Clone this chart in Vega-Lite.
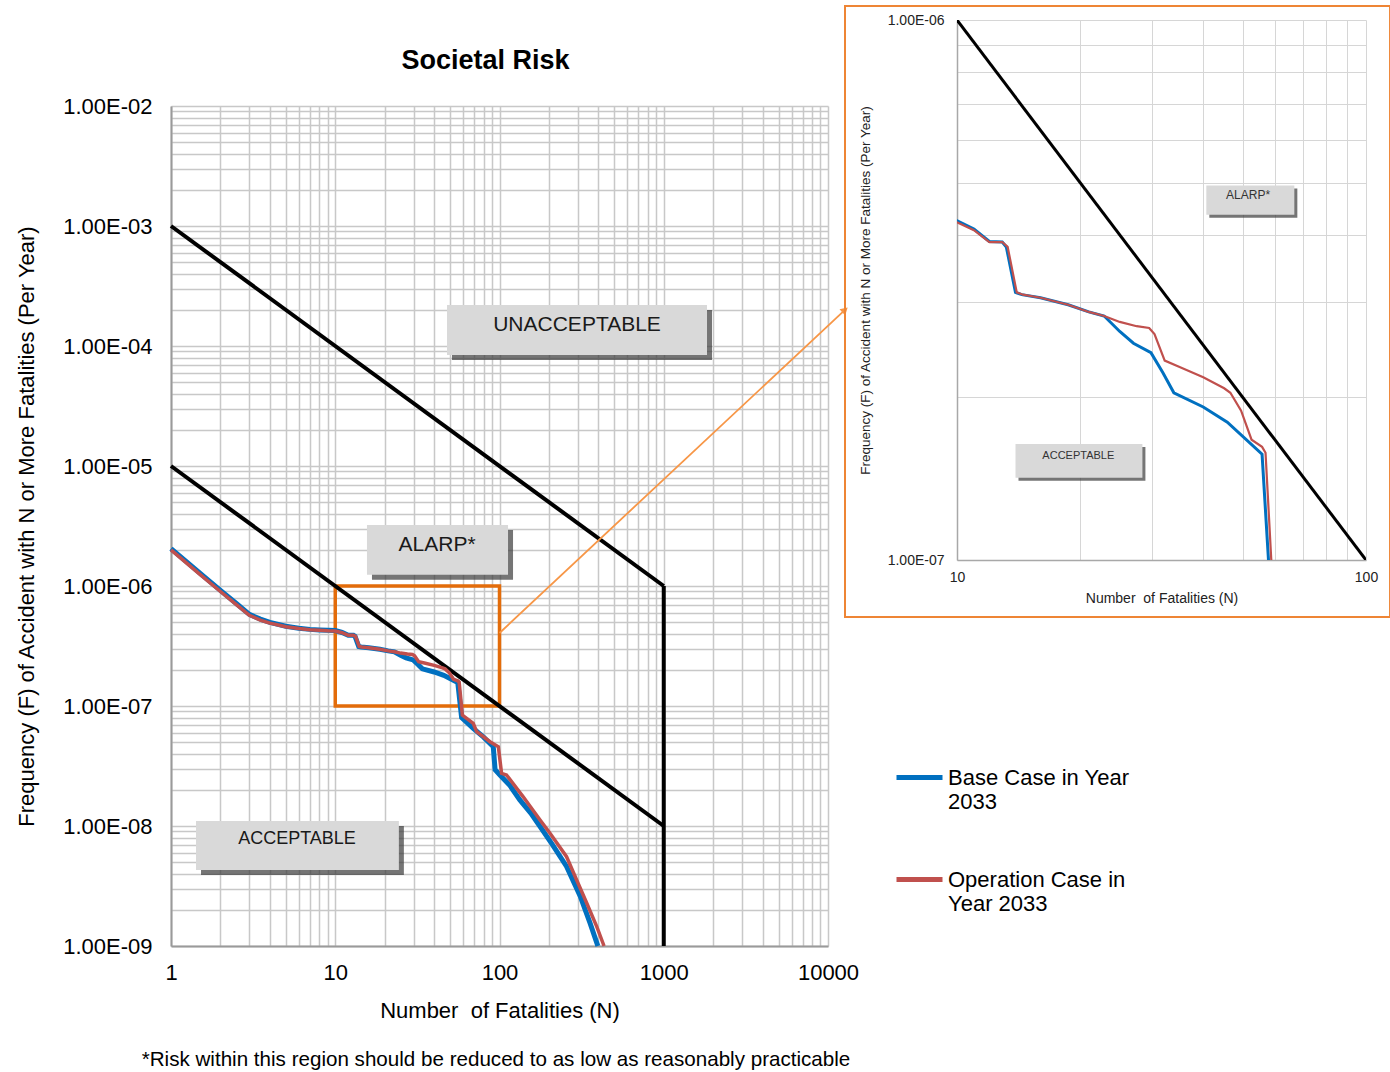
{
  "$schema": "https://vega.github.io/schema/vega-lite/v6.json",
  "background": "white",
  "padding": {"left": 15, "top": 4, "right": 0, "bottom": 4},
  "bounds": "flush",
  "spacing": 129,
  "title": {
    "text": "*Risk within this region should be reduced to as low as reasonably practicable",
    "orient": "bottom",
    "anchor": "start",
    "frame": "bounds",
    "offset": 29,
    "dx": 126,
    "fontSize": 20.6,
    "fontWeight": "normal",
    "font": "Liberation Sans",
    "color": "#000000"
  },
  "config": {
    "font": "Liberation Sans",
    "view": {"stroke": null},
    "legend": {
      "symbolType": "stroke",
      "symbolSize": 2116,
      "symbolStrokeWidth": 5,
      "labelFontSize": 22,
      "labelFont": "Liberation Sans",
      "labelColor": "#000000",
      "labelOffset": 3,
      "rowPadding": 41,
      "padding": 0,
      "labelLimit": 400,
      "labelBaseline": "middle"
    }
  },
  "resolve": {"scale": {"x": "independent", "y": "independent", "color": "shared"}},
  "datasets": {
    "curves": [
      {"series": "Base Case in Year 2033", "N": 1, "F": 2.05e-6},
      {"series": "Base Case in Year 2033", "N": 1.5, "F": 1.28e-6},
      {"series": "Base Case in Year 2033", "N": 2, "F": 9.2e-7},
      {"series": "Base Case in Year 2033", "N": 2.5, "F": 7.15e-7},
      {"series": "Base Case in Year 2033", "N": 3, "F": 5.8e-7},
      {"series": "Base Case in Year 2033", "N": 3.5, "F": 5.3e-7},
      {"series": "Base Case in Year 2033", "N": 4, "F": 4.97e-7},
      {"series": "Base Case in Year 2033", "N": 5, "F": 4.62e-7},
      {"series": "Base Case in Year 2033", "N": 6, "F": 4.45e-7},
      {"series": "Base Case in Year 2033", "N": 7, "F": 4.35e-7},
      {"series": "Base Case in Year 2033", "N": 8, "F": 4.3e-7},
      {"series": "Base Case in Year 2033", "N": 9, "F": 4.27e-7},
      {"series": "Base Case in Year 2033", "N": 10, "F": 4.25e-7},
      {"series": "Base Case in Year 2033", "N": 11, "F": 4.1e-7},
      {"series": "Base Case in Year 2033", "N": 12, "F": 3.89e-7},
      {"series": "Base Case in Year 2033", "N": 12.9, "F": 3.88e-7},
      {"series": "Base Case in Year 2033", "N": 13.2, "F": 3.8e-7},
      {"series": "Base Case in Year 2033", "N": 13.9, "F": 3.13e-7},
      {"series": "Base Case in Year 2033", "N": 14.4, "F": 3.1e-7},
      {"series": "Base Case in Year 2033", "N": 16, "F": 3.06e-7},
      {"series": "Base Case in Year 2033", "N": 18.7, "F": 2.97e-7},
      {"series": "Base Case in Year 2033", "N": 21, "F": 2.88e-7},
      {"series": "Base Case in Year 2033", "N": 22.9, "F": 2.83e-7},
      {"series": "Base Case in Year 2033", "N": 25, "F": 2.65e-7},
      {"series": "Base Case in Year 2033", "N": 27, "F": 2.52e-7},
      {"series": "Base Case in Year 2033", "N": 29.8, "F": 2.42e-7},
      {"series": "Base Case in Year 2033", "N": 31.9, "F": 2.22e-7},
      {"series": "Base Case in Year 2033", "N": 33.9, "F": 2.04e-7},
      {"series": "Base Case in Year 2033", "N": 40, "F": 1.92e-7},
      {"series": "Base Case in Year 2033", "N": 45.8, "F": 1.8e-7},
      {"series": "Base Case in Year 2033", "N": 55.7, "F": 1.57e-7},
      {"series": "Base Case in Year 2033", "N": 58.8, "F": 8.0e-8},
      {"series": "Base Case in Year 2033", "N": 69.2, "F": 6.5e-8},
      {"series": "Base Case in Year 2033", "N": 80, "F": 5.5e-8},
      {"series": "Base Case in Year 2033", "N": 89.4, "F": 4.73e-8},
      {"series": "Base Case in Year 2033", "N": 91.6, "F": 4.6e-8},
      {"series": "Base Case in Year 2033", "N": 94, "F": 2.95e-8},
      {"series": "Base Case in Year 2033", "N": 100.6, "F": 2.66e-8},
      {"series": "Base Case in Year 2033", "N": 115, "F": 2.2e-8},
      {"series": "Base Case in Year 2033", "N": 133, "F": 1.65e-8},
      {"series": "Base Case in Year 2033", "N": 155, "F": 1.28e-8},
      {"series": "Base Case in Year 2033", "N": 176.6, "F": 9.9e-9},
      {"series": "Base Case in Year 2033", "N": 210, "F": 7.0e-9},
      {"series": "Base Case in Year 2033", "N": 256, "F": 4.6e-9},
      {"series": "Base Case in Year 2033", "N": 310, "F": 2.6e-9},
      {"series": "Base Case in Year 2033", "N": 356, "F": 1.55e-9},
      {"series": "Base Case in Year 2033", "N": 397, "F": 1.0e-9},
      {"series": "Operation Case in Year 2033", "N": 1, "F": 2.0e-6},
      {"series": "Operation Case in Year 2033", "N": 1.5, "F": 1.25e-6},
      {"series": "Operation Case in Year 2033", "N": 2, "F": 9.0e-7},
      {"series": "Operation Case in Year 2033", "N": 2.5, "F": 7.0e-7},
      {"series": "Operation Case in Year 2033", "N": 3, "F": 5.7e-7},
      {"series": "Operation Case in Year 2033", "N": 3.5, "F": 5.2e-7},
      {"series": "Operation Case in Year 2033", "N": 4, "F": 4.9e-7},
      {"series": "Operation Case in Year 2033", "N": 5, "F": 4.58e-7},
      {"series": "Operation Case in Year 2033", "N": 6, "F": 4.42e-7},
      {"series": "Operation Case in Year 2033", "N": 7, "F": 4.32e-7},
      {"series": "Operation Case in Year 2033", "N": 8, "F": 4.27e-7},
      {"series": "Operation Case in Year 2033", "N": 9, "F": 4.23e-7},
      {"series": "Operation Case in Year 2033", "N": 10, "F": 4.22e-7},
      {"series": "Operation Case in Year 2033", "N": 11, "F": 4.08e-7},
      {"series": "Operation Case in Year 2033", "N": 12, "F": 3.88e-7},
      {"series": "Operation Case in Year 2033", "N": 12.9, "F": 3.88e-7},
      {"series": "Operation Case in Year 2033", "N": 13.3, "F": 3.8e-7},
      {"series": "Operation Case in Year 2033", "N": 14.0, "F": 3.13e-7},
      {"series": "Operation Case in Year 2033", "N": 14.5, "F": 3.1e-7},
      {"series": "Operation Case in Year 2033", "N": 16, "F": 3.06e-7},
      {"series": "Operation Case in Year 2033", "N": 18.7, "F": 2.97e-7},
      {"series": "Operation Case in Year 2033", "N": 21, "F": 2.88e-7},
      {"series": "Operation Case in Year 2033", "N": 22.9, "F": 2.83e-7},
      {"series": "Operation Case in Year 2033", "N": 25, "F": 2.76e-7},
      {"series": "Operation Case in Year 2033", "N": 27.5, "F": 2.71e-7},
      {"series": "Operation Case in Year 2033", "N": 29.5, "F": 2.69e-7},
      {"series": "Operation Case in Year 2033", "N": 30.4, "F": 2.62e-7},
      {"series": "Operation Case in Year 2033", "N": 32.2, "F": 2.34e-7},
      {"series": "Operation Case in Year 2033", "N": 34.9, "F": 2.28e-7},
      {"series": "Operation Case in Year 2033", "N": 40, "F": 2.18e-7},
      {"series": "Operation Case in Year 2033", "N": 45, "F": 2.08e-7},
      {"series": "Operation Case in Year 2033", "N": 46.6, "F": 2.04e-7},
      {"series": "Operation Case in Year 2033", "N": 49.5, "F": 1.89e-7},
      {"series": "Operation Case in Year 2033", "N": 52.5, "F": 1.67e-7},
      {"series": "Operation Case in Year 2033", "N": 55.7, "F": 1.62e-7},
      {"series": "Operation Case in Year 2033", "N": 56.8, "F": 1.58e-7},
      {"series": "Operation Case in Year 2033", "N": 59.4, "F": 8.4e-8},
      {"series": "Operation Case in Year 2033", "N": 69.2, "F": 7.18e-8},
      {"series": "Operation Case in Year 2033", "N": 72.6, "F": 6.11e-8},
      {"series": "Operation Case in Year 2033", "N": 87.5, "F": 5.04e-8},
      {"series": "Operation Case in Year 2033", "N": 98.4, "F": 4.58e-8},
      {"series": "Operation Case in Year 2033", "N": 102.9, "F": 2.75e-8},
      {"series": "Operation Case in Year 2033", "N": 110.3, "F": 2.66e-8},
      {"series": "Operation Case in Year 2033", "N": 139.4, "F": 1.75e-8},
      {"series": "Operation Case in Year 2033", "N": 176.6, "F": 1.12e-8},
      {"series": "Operation Case in Year 2033", "N": 203, "F": 8.69e-9},
      {"series": "Operation Case in Year 2033", "N": 256, "F": 5.55e-9},
      {"series": "Operation Case in Year 2033", "N": 295, "F": 3.55e-9},
      {"series": "Operation Case in Year 2033", "N": 340, "F": 2.27e-9},
      {"series": "Operation Case in Year 2033", "N": 391, "F": 1.45e-9},
      {"series": "Operation Case in Year 2033", "N": 433, "F": 1.0e-9}
    ],
    "criteria": [
      {"line": "upper", "N": 1, "F": 0.001},
      {"line": "upper", "N": 1000, "F": 1e-6},
      {"line": "lower", "N": 1, "F": 1e-5},
      {"line": "lower", "N": 1000, "F": 1e-8}
    ],
    "limit": [
      {"N": 1000, "F": 1e-9, "F2": 1e-6}
    ],
    "boxesMain": [
      {"label": "UNACCEPTABLE", "N": 47.9, "N2": 1834, "F": 2.2e-4, "F2": 8.41e-5},
      {"label": "ALARP*", "N": 15.6, "N2": 112.7, "F": 3.22e-6, "F2": 1.24e-6},
      {"label": "ACCEPTABLE", "N": 1.42, "N2": 24.4, "F": 1.1e-8, "F2": 4.3e-9}
    ],
    "labelsMain": [
      {"label": "UNACCEPTABLE", "N": 296.5, "F": 1.5e-4},
      {"label": "ALARP*", "N": 41.7, "F": 2.2e-6},
      {"label": "ACCEPTABLE", "N": 5.85, "F": 7.79e-9}
    ],
    "zoomBox": [
      {"N": 10, "N2": 100, "F": 1e-7, "F2": 1e-6}
    ],
    "connector": [
      {"N": 100, "F": 4.06e-7, "N2": 12690, "F2": 2.0e-4}
    ],
    "boxesInset": [
      {"label": "ALARP*", "N": 40.7, "N2": 66.8, "F": 4.94e-7, "F2": 4.36e-7},
      {"label": "ACCEPTABLE", "N": 13.9, "N2": 28.4, "F": 1.64e-7, "F2": 1.42e-7}
    ],
    "labelsInset": [
      {"label": "ALARP*", "N": 51.5, "F": 4.74e-7},
      {"label": "ACCEPTABLE", "N": 19.8, "F": 1.56e-7}
    ],
    "insetFrame": [
      {"N": 5.323, "N2": 114.5, "F": 7.84e-8, "F2": 1.0616e-6}
    ]
  },
  "hconcat": [
    {
      "width": 657,
      "height": 926,
      "resolve": {"axis": {"x": "independent"}},
      "title": {
        "text": "Societal Risk",
        "orient": "top",
        "anchor": "middle",
        "frame": "group",
        "offset": -76,
        "dx": -14,
        "baseline": "alphabetic",
        "fontSize": 27,
        "fontWeight": "bold",
        "font": "Liberation Sans",
        "color": "#000000"
      },
      "encoding": {
        "x": {
          "field": "N",
          "type": "quantitative",
          "scale": {"type": "log", "domain": [1, 10000], "nice": false},
          "axis": null
        },
        "y": {
          "field": "F",
          "type": "quantitative",
          "scale": {"type": "log", "domain": [1e-9, 0.01], "range": [926, 86], "nice": false},
          "axis": {
            "values": [1e-9,2e-9,3e-9,4e-9,5e-9,6e-9,7e-9,8e-9,9e-9,1e-8,2e-8,3e-8,4e-8,5e-8,6e-8,7e-8,8e-8,9e-8,1e-7,2e-7,3e-7,4e-7,5e-7,6e-7,7e-7,8e-7,9e-7,1e-6,2e-6,3e-6,4e-6,5e-6,6e-6,7e-6,8e-6,9e-6,1e-5,2e-5,3e-5,4e-5,5e-5,6e-5,7e-5,8e-5,9e-5,1e-4,2e-4,3e-4,4e-4,5e-4,6e-4,7e-4,8e-4,9e-4,0.001,0.002,0.003,0.004,0.005,0.006,0.007,0.008,0.009,0.01],
            "labelExpr": "abs(log(datum.value)/LN10 - round(log(datum.value)/LN10)) < 0.01 ? '1.00E-0' + (-round(log(datum.value)/LN10)) : ''",
            "labelOverlap": false,
            "labelFlush": false,
            "ticks": false,
            "labelFontSize": 22,
            "labelColor": "#000000",
            "labelPadding": 19,
            "grid": true,
            "gridColor": "#c8c8c8",
            "gridWidth": 1.5,
            "domainColor": "#9a9a9a",
            "domainWidth": 2,
            "title": "Frequency (F) of Accident with N or More Fatalities (Per Year)",
            "titleFontSize": 22,
            "titleFontWeight": "normal",
            "titleColor": "#000000",
            "titlePadding": 24
          }
        }
      },
      "layer": [
        {
          "data": {"name": "boxesMain"},
          "mark": {"type": "rect", "fill": "#3a3a3a", "opacity": 0.7, "xOffset": 5, "x2Offset": 5, "yOffset": 5, "y2Offset": 5},
          "encoding": {
            "x": {
              "field": "N",
              "type": "quantitative",
              "scale": {"type": "log", "domain": [1, 10000], "nice": false},
              "axis": {
                "orient": "top",
                "values": [1,2,3,4,5,6,7,8,9,10,20,30,40,50,60,70,80,90,100,200,300,400,500,600,700,800,900,1000,2000,3000,4000,5000,6000,7000,8000,9000,10000],
                "labels": false,
                "ticks": false,
                "domain": false,
                "grid": true,
                "gridColor": "#c8c8c8",
                "gridWidth": 1.5,
                "title": null
              }
            },
            "x2": {"field": "N2"},
            "y2": {"field": "F2"}
          }
        },
        {
          "data": {"name": "boxesMain"},
          "mark": {"type": "rect", "fill": "#d9d9d9"},
          "encoding": {"x2": {"field": "N2"}, "y2": {"field": "F2"}}
        },
        {
          "data": {"name": "labelsMain"},
          "transform": [{"filter": "datum.label != 'ACCEPTABLE'"}],
          "mark": {"type": "text", "fontSize": 21, "align": "center", "baseline": "middle", "color": "#1a1a1a"},
          "encoding": {"text": {"field": "label"}}
        },
        {
          "data": {"name": "labelsMain"},
          "transform": [{"filter": "datum.label == 'ACCEPTABLE'"}],
          "mark": {"type": "text", "fontSize": 18, "align": "center", "baseline": "middle", "color": "#1a1a1a"},
          "encoding": {"text": {"field": "label"}}
        },
        {
          "data": {"name": "zoomBox"},
          "mark": {"type": "rect", "filled": false, "stroke": "#E36C0A", "strokeWidth": 3.5},
          "encoding": {"x2": {"field": "N2"}, "y2": {"field": "F2"}}
        },
        {
          "data": {"name": "criteria"},
          "mark": {"type": "line", "color": "#000000", "strokeWidth": 4},
          "encoding": {
            "x": {
              "field": "N",
              "type": "quantitative",
              "scale": {"type": "log", "domain": [1, 10000], "nice": false},
              "axis": {
                "orient": "bottom",
                "values": [1,10,100,1000,10000],
                "labelExpr": "format(datum.value, 'd')",
                "labelOverlap": false,
                "labelFlush": false,
                "ticks": false,
                "grid": false,
                "labelFontSize": 22,
                "labelColor": "#000000",
                "labelPadding": 16,
                "domainColor": "#9a9a9a",
                "domainWidth": 2,
                "title": "Number\u00a0 of Fatalities (N)",
                "titleFontSize": 22,
                "titleFontWeight": "normal",
                "titleColor": "#000000",
                "titlePadding": 17
              }
            },
            "detail": {"field": "line"}
          }
        },
        {
          "data": {"name": "limit"},
          "mark": {"type": "rule", "color": "#000000", "strokeWidth": 4},
          "encoding": {"y2": {"field": "F2"}}
        },
        {
          "data": {"name": "curves"},
          "transform": [{"filter": "datum.series == 'Base Case in Year 2033'"}],
          "mark": {"type": "line", "strokeWidth": 5},
          "encoding": {
            "color": {
              "field": "series", "type": "nominal",
              "scale": {"domain": ["Base Case in Year 2033", "Operation Case in Year 2033"], "range": ["#0070C0", "#C0504D"]},
              "legend": {"orient": "none", "legendX": 723, "legendY": 732, "title": null, "labelExpr": "datum.label == 'Base Case in Year 2033' ? ['Base Case in Year', '2033'] : ['Operation Case in', 'Year 2033']"}
            }
          }
        },
        {
          "data": {"name": "curves"},
          "transform": [{"filter": "datum.series == 'Operation Case in Year 2033'"}],
          "mark": {"type": "line", "strokeWidth": 3.5},
          "encoding": {
            "color": {
              "field": "series", "type": "nominal",
              "scale": {"domain": ["Base Case in Year 2033", "Operation Case in Year 2033"], "range": ["#0070C0", "#C0504D"]},
              "legend": {"orient": "none", "legendX": 723, "legendY": 732, "title": null, "labelExpr": "datum.label == 'Base Case in Year 2033' ? ['Base Case in Year', '2033'] : ['Operation Case in', 'Year 2033']"}
            }
          }
        },
        {
          "data": {"name": "connector"},
          "mark": {"type": "rule", "color": "#F79646", "strokeWidth": 1.8},
          "encoding": {"x2": {"field": "N2"}, "y2": {"field": "F2"}}
        },
        {
          "data": {"name": "connector"},
          "mark": {"type": "point", "shape": "triangle-right", "filled": true, "color": "#F79646", "size": 70, "angle": -43, "opacity": 1},
          "encoding": {"x": {"field": "N2", "type": "quantitative"}, "y": {"field": "F2", "type": "quantitative"}}
        }
      ]
    },
    {
      "width": 409,
      "height": 540,
      "encoding": {
        "x": {
          "field": "N",
          "type": "quantitative",
          "scale": {"type": "log", "domain": [10, 100], "nice": false},
          "axis": {
            "values": [10,20,30,40,50,60,70,80,90,100],
            "labelExpr": "abs(log(datum.value)/LN10 - round(log(datum.value)/LN10)) < 0.01 ? format(datum.value, 'd') : ''",
            "labelOverlap": false,
            "labelFlush": false,
            "ticks": false,
            "labelFontSize": 14,
            "labelColor": "#222222",
            "labelPadding": 10,
            "grid": true,
            "gridColor": "#d6d6d6",
            "gridWidth": 1,
            "domainColor": "#a8a8a8",
            "domainWidth": 1.5,
            "title": "Number\u00a0 of Fatalities (N)",
            "titleFontSize": 14,
            "titleFontWeight": "normal",
            "titleColor": "#222222",
            "titlePadding": 7
          }
        },
        "y": {
          "field": "F",
          "type": "quantitative",
          "scale": {"type": "log", "domain": [1e-7, 1e-6], "nice": false},
          "axis": {
            "values": [1e-7,2e-7,3e-7,4e-7,5e-7,6e-7,7e-7,8e-7,9e-7,1e-6],
            "labelExpr": "abs(log(datum.value)/LN10 - round(log(datum.value)/LN10)) < 0.01 ? '1.00E-0' + (-round(log(datum.value)/LN10)) : ''",
            "labelOverlap": false,
            "labelFlush": false,
            "ticks": false,
            "labelFontSize": 14,
            "labelColor": "#222222",
            "labelPadding": 13,
            "grid": true,
            "gridColor": "#d6d6d6",
            "gridWidth": 1,
            "domainColor": "#a8a8a8",
            "domainWidth": 1.5,
            "title": "Frequency (F) of Accident with N or More Fatalities (Per Year)",
            "titleFontSize": 13.5,
            "titleFontWeight": "normal",
            "titleColor": "#222222",
            "titlePadding": 15
          }
        }
      },
      "layer": [
        {
          "data": {"name": "insetFrame"},
          "mark": {"type": "rect", "filled": false, "stroke": "#EE8535", "strokeWidth": 2},
          "encoding": {"x2": {"field": "N2"}, "y2": {"field": "F2"}}
        },
        {
          "data": {"name": "boxesInset"},
          "mark": {"type": "rect", "fill": "#3a3a3a", "opacity": 0.7, "xOffset": 3, "x2Offset": 3, "yOffset": 3, "y2Offset": 3},
          "encoding": {"x2": {"field": "N2"}, "y2": {"field": "F2"}}
        },
        {
          "data": {"name": "boxesInset"},
          "mark": {"type": "rect", "fill": "#d9d9d9"},
          "encoding": {"x2": {"field": "N2"}, "y2": {"field": "F2"}}
        },
        {
          "data": {"name": "labelsInset"},
          "transform": [{"filter": "datum.label != 'ACCEPTABLE'"}],
          "mark": {"type": "text", "fontSize": 12, "align": "center", "baseline": "middle", "color": "#333333"},
          "encoding": {"text": {"field": "label"}}
        },
        {
          "data": {"name": "labelsInset"},
          "transform": [{"filter": "datum.label == 'ACCEPTABLE'"}],
          "mark": {"type": "text", "fontSize": 11, "align": "center", "baseline": "middle", "color": "#333333"},
          "encoding": {"text": {"field": "label"}}
        },
        {
          "data": {"name": "criteria"},
          "mark": {"type": "line", "color": "#000000", "strokeWidth": 3, "clip": true},
          "encoding": {"detail": {"field": "line"}}
        },
        {
          "data": {"name": "curves"},
          "transform": [{"filter": "datum.series == 'Base Case in Year 2033'"}],
          "mark": {"type": "line", "strokeWidth": 3, "clip": true},
          "encoding": {
            "color": {
              "field": "series", "type": "nominal",
              "scale": {"domain": ["Base Case in Year 2033", "Operation Case in Year 2033"], "range": ["#0070C0", "#C0504D"]},
              "legend": {"orient": "none", "legendX": 723, "legendY": 732, "title": null, "labelExpr": "datum.label == 'Base Case in Year 2033' ? ['Base Case in Year', '2033'] : ['Operation Case in', 'Year 2033']"}
            }
          }
        },
        {
          "data": {"name": "curves"},
          "transform": [{"filter": "datum.series == 'Operation Case in Year 2033'"}],
          "mark": {"type": "line", "strokeWidth": 2.2, "clip": true},
          "encoding": {
            "color": {
              "field": "series", "type": "nominal",
              "scale": {"domain": ["Base Case in Year 2033", "Operation Case in Year 2033"], "range": ["#0070C0", "#C0504D"]},
              "legend": {"orient": "none", "legendX": 723, "legendY": 732, "title": null, "labelExpr": "datum.label == 'Base Case in Year 2033' ? ['Base Case in Year', '2033'] : ['Operation Case in', 'Year 2033']"}
            }
          }
        }
      ]
    }
  ]
}
